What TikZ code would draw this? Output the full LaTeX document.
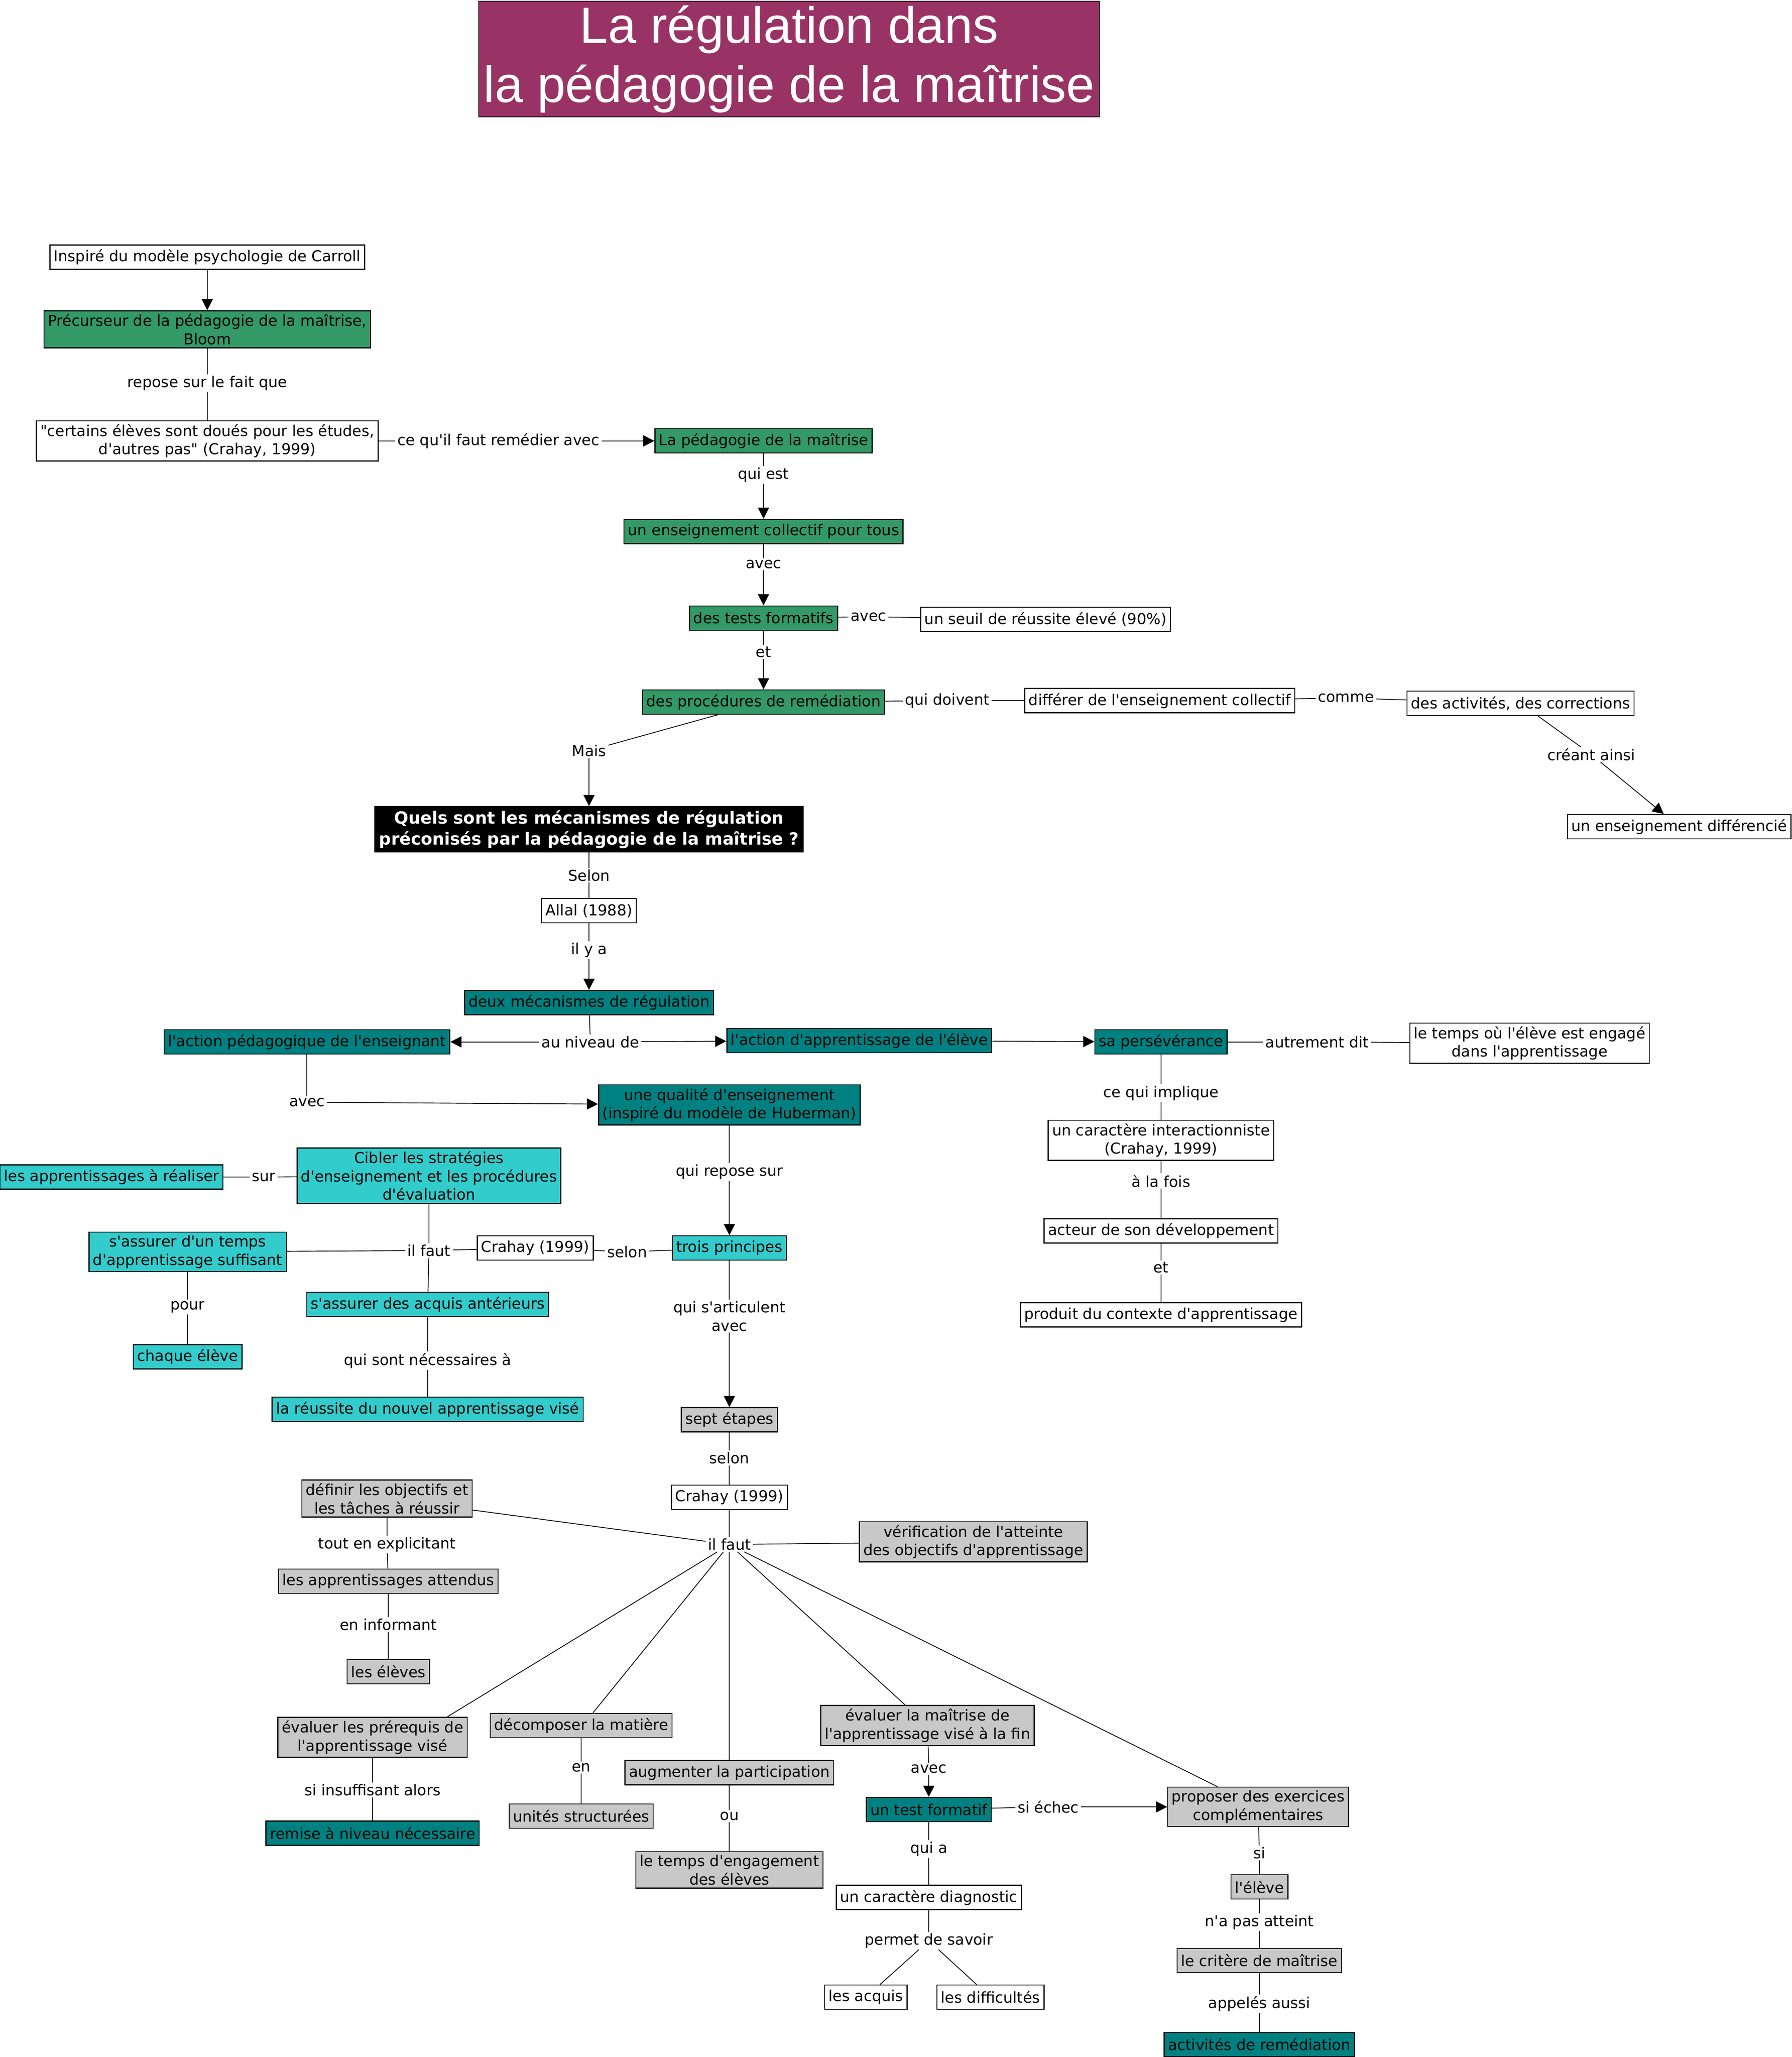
\documentclass[tikz,border=0pt]{standalone}
\usepackage{fontspec}
\newfontfamily\vfont{DejaVu Sans}
\newfontfamily\titlefont{Liberation Sans}
\usetikzlibrary{arrows.meta}
\definecolor{cgreen}{HTML}{339966}
\definecolor{cteal}{HTML}{008080}
\definecolor{ccyan}{HTML}{33CCCC}
\definecolor{cgray}{HTML}{C8C8C8}
\definecolor{ctitle}{HTML}{993366}
\begin{document}
\begin{tikzpicture}[x=1pt,y=-1pt,
  concept/.style={draw=black, line width=0.8pt, align=center, inner xsep=3pt, inner ysep=2.5pt,
    minimum height=18.5pt, text=black, font=\vfont\fontsize{11.45}{14}\selectfont},
  cwhite/.style={concept, fill=white},
  cgreenbox/.style={concept, fill=cgreen},
  ctealbox/.style={concept, fill=cteal},
  ccyanbox/.style={concept, fill=ccyan},
  cgraybox/.style={concept, fill=cgray},
  qbox/.style={draw=black, fill=black, text=white, align=center, inner xsep=3.5pt, inner ysep=3pt,
    font=\vfont\bfseries\fontsize{12.8}{16}\selectfont},
  lab/.style={fill=white, inner xsep=1.5pt, inner ysep=1pt, align=center, text=black,
    font=\vfont\fontsize{11.45}{14}\selectfont},
  link/.style={draw=black, line width=0.6pt},
  arr/.style={link, -{Triangle[length=8.5pt,width=8.5pt]}},
]
\useasboundingbox (0,0) rectangle (1366,1567.6);
\fill[white] (0,0) rectangle (1366,1567.6);

% title
\node[draw=black, line width=0.8pt, fill=ctitle, text=white, minimum width=473pt, minimum height=88pt,
  align=center, inner sep=0pt, font=\titlefont\fontsize{38.8}{45}\selectfont] (title) at (601.5,45)
  {La régulation dans\\la pédagogie de la maîtrise};

% concepts
\node[cwhite] (carroll) at (158,196) {Inspiré du modèle psychologie de Carroll};
\node[cgreenbox] (bloom) at (158,251) {Précurseur de la pédagogie de la maîtrise,\\Bloom};
\node[cwhite] (certains) at (158,336) {"certains élèves sont doués pour les études,\\d'autres pas" (Crahay, 1999)};
\node[cgreenbox] (pedmait) at (582,336) {La pédagogie de la maîtrise};
\node[cgreenbox] (enscoll) at (582,405) {un enseignement collectif pour tous};
\node[cgreenbox] (tests) at (582,471) {des tests formatifs};
\node[cwhite] (seuil) at (797,472) {un seuil de réussite élevé (90\%)};
\node[cgreenbox] (proc) at (582,535) {des procédures de remédiation};
\node[cwhite] (differer) at (884,534) {différer de l'enseignement collectif};
\node[cwhite] (activites) at (1159,536) {des activités, des corrections};
\node[cwhite] (ensdiff) at (1280,630) {un enseignement différencié};
\node[qbox] (question) at (449,632) {Quels sont les mécanismes de régulation\\préconisés par la pédagogie de la maîtrise ?};
\node[cwhite] (allal) at (449,694) {Allal (1988)};
\node[ctealbox] (deux) at (449,764) {deux mécanismes de régulation};
\node[ctealbox] (actens) at (234,794) {l'action pédagogique de l'enseignant};
\node[ctealbox] (actelev) at (655,793) {l'action d'apprentissage de l'élève};
\node[ctealbox] (persev) at (885,794) {sa persévérance};
\node[cwhite] (temps) at (1166,795) {le temps où l'élève est engagé\\dans l'apprentissage};
\node[ctealbox] (qualite) at (556,842) {une qualité d'enseignement\\(inspiré du modèle de Huberman)};
\node[cwhite] (caract) at (885,869) {un caractère interactionniste\\(Crahay, 1999)};
\node[cwhite] (acteur) at (885,938) {acteur de son développement};
\node[cwhite] (produit) at (885,1002) {produit du contexte d'apprentissage};
\node[ccyanbox] (apprrea) at (85,897) {les apprentissages à réaliser};
\node[ccyanbox] (cibler) at (327,896) {Cibler les stratégies\\d'enseignement et les procédures\\d'évaluation};
\node[ccyanbox] (assurtemps) at (143,954) {s'assurer d'un temps\\d'apprentissage suffisant};
\node[cwhite] (crahayA) at (408,951) {Crahay (1999)};
\node[ccyanbox] (trois) at (556,951) {trois principes};
\node[ccyanbox] (acquis) at (326,994) {s'assurer des acquis antérieurs};
\node[ccyanbox] (chaque) at (143,1034) {chaque élève};
\node[ccyanbox] (reussite) at (326,1074) {la réussite du nouvel apprentissage visé};
\node[cgraybox] (sept) at (556,1082) {sept étapes};
\node[cwhite] (crahayB) at (556,1141) {Crahay (1999)};
\node[cgraybox] (definir) at (295,1142) {définir les objectifs et\\les tâches à réussir};
\node[cgraybox] (verif) at (742,1175) {vérification de l'atteinte\\des objectifs d'apprentissage};
\node[cgraybox] (appratt) at (296,1205) {les apprentissages attendus};
\node[cgraybox] (eleves) at (296,1274) {les élèves};
\node[cgraybox] (evalpre) at (284,1324) {évaluer les prérequis de\\l'apprentissage visé};
\node[cgraybox] (decomp) at (443,1315) {décomposer la matière};
\node[cgraybox] (evalmait) at (707,1315) {évaluer la maîtrise de\\l'apprentissage visé à la fin};
\node[cgraybox] (augm) at (556,1351) {augmenter la participation};
\node[cgraybox] (proposer) at (959,1377) {proposer des exercices\\complémentaires};
\node[ctealbox] (remise) at (284,1397) {remise à niveau nécessaire};
\node[cgraybox] (unites) at (443,1384) {unités structurées};
\node[ctealbox] (testform) at (708,1379) {un test formatif};
\node[cgraybox] (tempseng) at (556,1425) {le temps d'engagement\\des élèves};
\node[cgraybox] (leleve) at (960,1438) {l'élève};
\node[cwhite] (caracdiag) at (708,1446) {un caractère diagnostic};
\node[cgraybox] (critere) at (960,1494) {le critère de maîtrise};
\node[cwhite] (acquisB) at (660,1522) {les acquis};
\node[cwhite] (diffic) at (755,1522) {les difficultés};
\node[ctealbox] (remed) at (960,1558) {activités de remédiation};

% linking phrases
\node[lab] (l1) at (158,292) {repose sur le fait que};
\node[lab] (l2) at (380,336) {ce qu'il faut remédier avec};
\node[lab] (l3) at (582,362) {qui est};
\node[lab] (l4) at (582,430) {avec};
\node[lab] (l5) at (662,470) {avec};
\node[lab] (l6) at (582,497) {et};
\node[lab] (l7) at (722,534) {qui doivent};
\node[lab] (l8) at (1026,532) {comme};
\node[lab] (l9) at (1213,575) {créant ainsi};
\node[lab] (l10) at (449,572) {Mais};
\node[lab] (l11) at (449,667) {Selon};
\node[lab] (l12) at (449,724) {il y a};
\node[lab] (l13) at (450,794) {au niveau de};
\node[lab] (l14) at (1004,794) {autrement dit};
\node[lab] (l15) at (885,833) {ce qui implique};
\node[lab] (l16) at (885,900) {à la fois};
\node[lab] (l17) at (885,966) {et};
\node[lab] (l18) at (234,840) {avec};
\node[lab] (l19) at (556,893) {qui repose sur};
\node[lab] (l20) at (478,954) {selon};
\node[lab] (l21) at (327,953) {il faut};
\node[lab] (l22) at (201,897) {sur};
\node[lab] (l23) at (143,996) {pour};
\node[lab] (l24) at (326,1037) {qui sont nécessaires à};
\node[lab] (l25) at (556,1003) {qui s'articulent\\avec};
\node[lab] (l26) at (556,1111) {selon};
\node[lab] (l27) at (556,1177) {il faut};
\node[lab] (l28) at (295,1177) {tout en explicitant};
\node[lab] (l29) at (296,1238) {en informant};
\node[lab] (l30) at (284,1364) {si insuffisant alors};
\node[lab] (l31) at (443,1347) {en};
\node[lab] (l32) at (556,1384) {ou};
\node[lab] (l33) at (708,1348) {avec};
\node[lab] (l34) at (799,1377) {si échec};
\node[lab] (l35) at (708,1409) {qui a};
\node[lab] (l36) at (708,1479) {permet de savoir};
\node[lab] (l37) at (960,1412) {si};
\node[lab] (l38) at (960,1465) {n'a pas atteint};
\node[lab] (l39) at (960,1527) {appelés aussi};

% connectors
\draw[arr] (carroll) -- (bloom);
\draw[link] (bloom) -- (l1); \draw[link] (l1) -- (certains);
\draw[link] (certains) -- (l2); \draw[arr] (l2) -- (pedmait);
\draw[link] (pedmait) -- (l3); \draw[arr] (l3) -- (enscoll);
\draw[link] (enscoll) -- (l4); \draw[arr] (l4) -- (tests);
\draw[link] (tests) -- (l5); \draw[link] (l5) -- (seuil);
\draw[link] (tests) -- (l6); \draw[arr] (l6) -- (proc);
\draw[link] (proc) -- (l7); \draw[link] (l7) -- (differer);
\draw[link] (differer) -- (l8); \draw[link] (l8) -- (activites);
\draw[link] (activites) -- (l9); \draw[arr] (l9) -- (ensdiff);
\draw[link] (proc) -- (l10); \draw[arr] (l10) -- (question);
\draw[link] (question) -- (l11); \draw[link] (l11) -- (allal);
\draw[link] (allal) -- (l12); \draw[arr] (l12) -- (deux);
\draw[link] (deux) -- (l13); \draw[arr] (l13) -- (actens); \draw[arr] (l13) -- (actelev);
\draw[arr] (actelev) -- (persev);
\draw[link] (persev) -- (l14); \draw[link] (l14) -- (temps);
\draw[link] (persev) -- (l15); \draw[link] (l15) -- (caract);
\draw[link] (caract) -- (l16); \draw[link] (l16) -- (acteur);
\draw[link] (acteur) -- (l17); \draw[link] (l17) -- (produit);
\draw[link] (actens) -- (l18); \draw[arr] (l18) -- (qualite);
\draw[link] (qualite) -- (l19); \draw[arr] (l19) -- (trois);
\draw[link] (trois) -- (l20); \draw[link] (l20) -- (crahayA);
\draw[link] (crahayA) -- (l21);
\draw[link] (l21) -- (cibler); \draw[link] (l21) -- (assurtemps); \draw[link] (l21) -- (acquis);
\draw[link] (cibler) -- (l22); \draw[link] (l22) -- (apprrea);
\draw[link] (assurtemps) -- (l23); \draw[link] (l23) -- (chaque);
\draw[link] (acquis) -- (l24); \draw[link] (l24) -- (reussite);
\draw[link] (trois) -- (l25); \draw[arr] (l25) -- (sept);
\draw[link] (sept) -- (l26); \draw[link] (l26) -- (crahayB);
\draw[link] (crahayB) -- (l27);
\draw[link] (l27) -- (definir);
\draw[link] (l27) -- (verif);
\draw[link] (l27) -- ([xshift=57pt]evalpre.north);
\draw[link] (l27) -- ([xshift=9pt]decomp.north);
\draw[link] (l27) -- (augm);
\draw[link] (l27) -- ([xshift=-17pt]evalmait.north);
\draw[link] (l27) -- ([xshift=-31pt]proposer.north);
\draw[link] (definir) -- (l28); \draw[link] (l28) -- (appratt);
\draw[link] (appratt) -- (l29); \draw[link] (l29) -- (eleves);
\draw[link] (evalpre) -- (l30); \draw[link] (l30) -- (remise);
\draw[link] (decomp) -- (l31); \draw[link] (l31) -- (unites);
\draw[link] (augm) -- (l32); \draw[link] (l32) -- (tempseng);
\draw[link] (evalmait) -- (l33); \draw[arr] (l33) -- (testform);
\draw[link] (testform) -- (l34); \draw[arr] (l34) -- (proposer);
\draw[link] (testform) -- (l35); \draw[link] (l35) -- (caracdiag);
\draw[link] (caracdiag) -- (l36); \draw[link] (l36) -- (acquisB); \draw[link] (l36) -- (diffic);
\draw[link] (proposer) -- (l37); \draw[link] (l37) -- (leleve);
\draw[link] (leleve) -- (l38); \draw[link] (l38) -- (critere);
\draw[link] (critere) -- (l39); \draw[link] (l39) -- (remed);
\end{tikzpicture}
\end{document}
